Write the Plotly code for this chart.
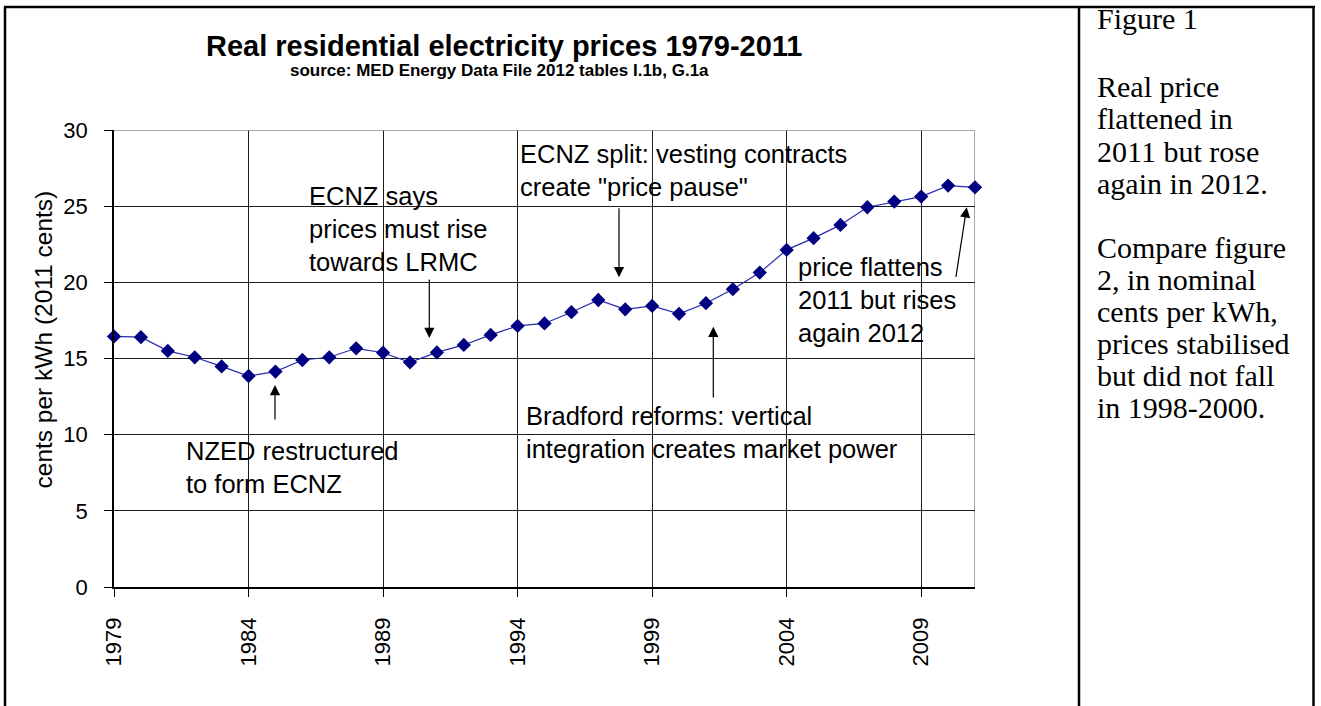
import plotly.graph_objects as go

# ---------------- data ----------------
years = list(range(1979, 2012))
price_cents = [16.45, 16.40, 15.50, 15.08, 14.48, 13.85, 14.14, 14.90, 15.08, 15.67,
               15.38, 14.75, 15.40, 15.89, 16.55, 17.14, 17.30, 18.04, 18.84, 18.23,
               18.45, 17.93, 18.63, 19.55, 20.64, 22.13, 22.90, 23.77, 24.93, 25.30,
               25.63, 26.35, 26.24]
x_tick_years = [1979, 1984, 1989, 1994, 1999, 2004, 2009]
x_tick_labels = [str(y) for y in x_tick_years]
y_ticks = [0, 5, 10, 15, 20, 25, 30]

title_text = "Real residential electricity prices 1979-2011"
subtitle_text = "source: MED Energy Data File 2012 tables I.1b, G.1a"
y_title = "cents per kWh (2011 cents)"
side_lines = ["Figure 1", "", "Real price", "flattened in", "2011 but rose", "again in 2012.", "",
              "Compare figure", "2, in nominal", "cents per kWh,", "prices stabilised",
              "but did not fall", "in 1998-2000."]

# ---------------- geometry helpers ----------------
W, H = 1321, 706
L, R, T, B = 114, 346, 130, 119
PW, PH = W - L - R, H - T - B
X0, X1, Y0, Y1 = 1979, 2011, 0, 30


def pxp(x):  # pixel x -> paper
    return (x - L) / PW


def pyp(y):  # pixel y -> paper
    return 1 - (y - T) / PH


def dx(x):  # pixel x -> data x
    return X0 + (x - L) / PW * (X1 - X0)


def dy(y):  # pixel y -> data y
    return Y0 + (T + PH - y) / PH * (Y1 - Y0)


SANS = "Liberation Sans, Arial, sans-serif"
SERIF = "Liberation Serif, Times New Roman, serif"

fig = go.Figure()
fig.add_trace(go.Scatter(
    x=years, y=price_cents, mode="lines+markers",
    line=dict(color="#2a2ab0", width=1.2),
    marker=dict(symbol="diamond", size=11, color="#000080"),
    showlegend=False, cliponaxis=False,
))

annotations = []
# title + subtitle
annotations.append(dict(text="<b>%s</b>" % title_text, x=pxp(504), y=pyp(46), xref="paper", yref="paper",
                        xanchor="center", yanchor="middle", showarrow=False,
                        font=dict(family=SANS, size=29, color="black")))
annotations.append(dict(text="<b>%s</b>" % subtitle_text, x=pxp(499), y=pyp(70), xref="paper", yref="paper",
                        xanchor="center", yanchor="middle", showarrow=False,
                        font=dict(family=SANS, size=17, color="black")))
# y axis title
annotations.append(dict(text=y_title, x=pxp(43), y=pyp(339.5), xref="paper", yref="paper",
                        xanchor="center", yanchor="middle", textangle=-90, showarrow=False,
                        font=dict(family=SANS, size=24.5, color="black")))

# text notes inside chart
notes = [
    ("ECNZ says<br>prices must rise<br>towards LRMC", 307, 228.8),
    ("ECNZ split: vesting contracts<br>create \"price pause\"", 518, 170.3),
    ("price flattens<br>2011 but rises<br>again 2012", 796, 300.2),
    ("Bradford reforms: vertical<br>integration creates market power", 524, 432.3),
    ("NZED restructured<br>to form ECNZ", 184, 467.5),
]
for txt, xl, yc in notes:
    annotations.append(dict(text=txt, x=pxp(xl), y=pyp(yc), xref="paper", yref="paper",
                            xanchor="left", yanchor="middle", align="left", showarrow=False,
                            font=dict(family=SANS, size=25.5, color="black")))

# arrows (tip pixel, tail pixel)
arrows = [
    ((275, 385), (275, 421)),
    ((429.3, 338), (429.3, 278)),
    ((619, 277.3), (619, 206.7)),
    ((713.3, 326.7), (713.3, 399)),
    ((966.7, 207.3), (955.7, 278.3)),
]
for (tx, ty), (sx, sy) in arrows:
    annotations.append(dict(text="", x=dx(tx), y=dy(ty), xref="x", yref="y",
                            ax=sx - tx, ay=sy - ty, axref="pixel", ayref="pixel",
                            showarrow=True, arrowhead=2, arrowsize=1.7, arrowwidth=1.2,
                            arrowcolor="black", standoff=0, startstandoff=0))

# side panel text (one annotation per line)
for i, line in enumerate(side_lines):
    if not line:
        continue
    base = 29 if i == 0 else 97 + (i - 2) * 32.1
    annotations.append(dict(text=line, x=pxp(1095), y=pyp(base - 0.34 * 30), xref="paper", yref="paper",
                            xanchor="left", yanchor="middle", showarrow=False,
                            font=dict(family=SERIF, size=30, color="black")))

shapes = []
# plot-area frame (grey top & right)
shapes.append(dict(type="line", xref="x", yref="y", x0=X0, x1=X1, y0=Y1, y1=Y1,
                   line=dict(color="#8c8c8c", width=1.5), layer="above"))
shapes.append(dict(type="line", xref="x", yref="y", x0=X1, x1=X1, y0=Y0, y1=Y1,
                   line=dict(color="#8c8c8c", width=1.5), layer="below"))
# document table borders
for (x0, y0, x1, y1) in [(4, 7, 1315, 7), (5, 7, 5, 706), (1079, 7, 1079, 706), (1313.5, 7, 1313.5, 706)]:
    shapes.append(dict(type="line", xref="paper", yref="paper", x0=pxp(x0), x1=pxp(x1),
                       y0=pyp(y0), y1=pyp(y1), line=dict(color="black", width=2.5)))

fig.update_layout(
    width=W, height=H, autosize=False,
    margin=dict(l=L, r=R, t=T, b=B, pad=0),
    paper_bgcolor="white", plot_bgcolor="white",
    font=dict(family=SANS, color="black"),
    annotations=annotations, shapes=shapes,
    xaxis=dict(range=[X0, X1], tickmode="array", tickvals=x_tick_years, ticktext=x_tick_labels,
               tickangle=-90, tickfont=dict(family=SANS, size=22, color="black"),
               showgrid=True, gridcolor="#1e1e1e", gridwidth=1.2,
               showline=True, linecolor="black", linewidth=1.5,
               ticks="outside", ticklen=8, tickcolor="black", tickwidth=1.2,
               zeroline=False, ticklabelstandoff=12),
    yaxis=dict(range=[Y0, Y1], tickmode="array", tickvals=y_ticks,
               tickfont=dict(family=SANS, size=22, color="black"),
               showgrid=True, gridcolor="#1e1e1e", gridwidth=1.2,
               showline=True, linecolor="black", linewidth=1.5,
               ticks="outside", ticklen=8, tickcolor="black", tickwidth=1.2,
               zeroline=False, ticklabelstandoff=12),
)

fig.write_html("out.html", config={"displayModeBar": False},
               post_script="document.body.style.margin='0';document.body.style.overflow='hidden';")
